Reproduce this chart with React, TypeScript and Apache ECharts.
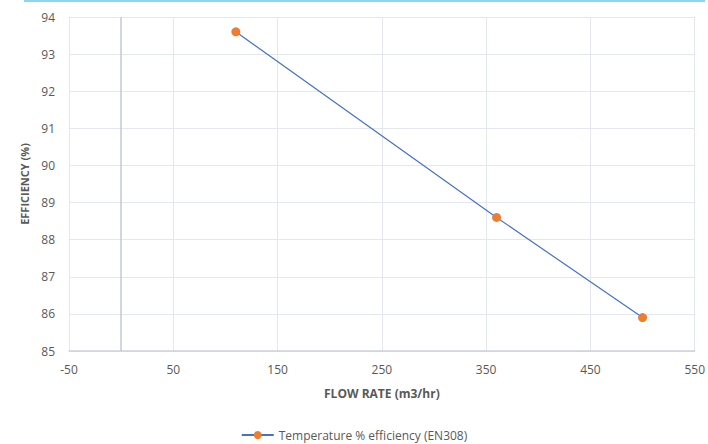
import React, { useEffect, useRef } from "react";
import * as echarts from "echarts";

const flowRates = [110, 360, 500];
const efficiencies = [93.6, 88.6, 85.9];
const seriesName = "Temperature % efficiency (EN308)";
const xTitle = "FLOW RATE (m3/hr)";
const yTitle = "EFFICIENCY (%)";

export default function App() {
  const ref = useRef<HTMLDivElement>(null);
  useEffect(() => {
    if (!ref.current) return;
    const chart = echarts.init(ref.current, undefined, { renderer: "svg" });
    const font = "'Open Sans', 'Noto Sans', sans-serif";
    chart.setOption({
      animation: false,
      backgroundColor: "#ffffff",
      textStyle: { fontFamily: font },
      grid: { left: 69, right: 13, top: 17, bottom: 93, containLabel: false },
      graphic: [
        {
          type: "line",
          shape: { x1: 24, y1: 1, x2: 705, y2: 1 },
          style: { stroke: "#8fd5f0", lineWidth: 2 },
        },
      ],
      xAxis: {
        type: "value",
        min: -50,
        max: 550,
        interval: 100,
        name: xTitle,
        nameLocation: "middle",
        nameGap: 36,
        nameTextStyle: { color: "#595959", fontSize: 12, fontWeight: "bold", fontFamily: font },
        axisLine: { show: true, onZero: false, lineStyle: { color: "#cdd1da", width: 1.5 } },
        axisTick: { show: false },
        axisLabel: { color: "#595959", fontSize: 12, margin: 12, fontFamily: font },
        splitLine: { show: true, lineStyle: { color: "#e4e7ee", width: 1 } },
      },
      yAxis: {
        type: "value",
        min: 85,
        max: 94,
        interval: 1,
        name: yTitle,
        nameLocation: "middle",
        nameGap: 37,
        nameRotate: 90,
        nameTextStyle: { color: "#595959", fontSize: 11, fontWeight: "bold", fontFamily: font },
        axisLine: { show: false },
        axisTick: { show: false },
        axisLabel: { color: "#595959", fontSize: 12, margin: 14, fontFamily: font },
        splitLine: { show: true, lineStyle: { color: "#e4e7ee", width: 1 } },
      },
      legend: {
        bottom: -2,
        left: "center",
        itemWidth: 32,
        itemHeight: 10,
        itemGap: 10,
        textStyle: { color: "#595959", fontSize: 12, fontFamily: font },
        data: [seriesName],
      },
      series: [
        {
          name: seriesName,
          type: "line",
          data: flowRates.map((x, i) => [x, efficiencies[i]]),
          lineStyle: { color: "#4472C4", width: 1.2 },
          itemStyle: { color: "#ED7D31" },
          symbol: "circle",
          symbolSize: 9,
          markLine: {
            silent: true,
            symbol: ["none", "none"],
            label: { show: false },
            lineStyle: { color: "#c3c8d4", width: 1.5, type: "solid", opacity: 1 },
            data: [{ xAxis: 0 }],
          },
        },
      ],
    });
    return () => chart.dispose();
  }, []);
  return (
    <div
      ref={ref}
      style={{ position: "fixed", left: 0, top: 0, width: 708, height: 444 }}
    />
  );
}
